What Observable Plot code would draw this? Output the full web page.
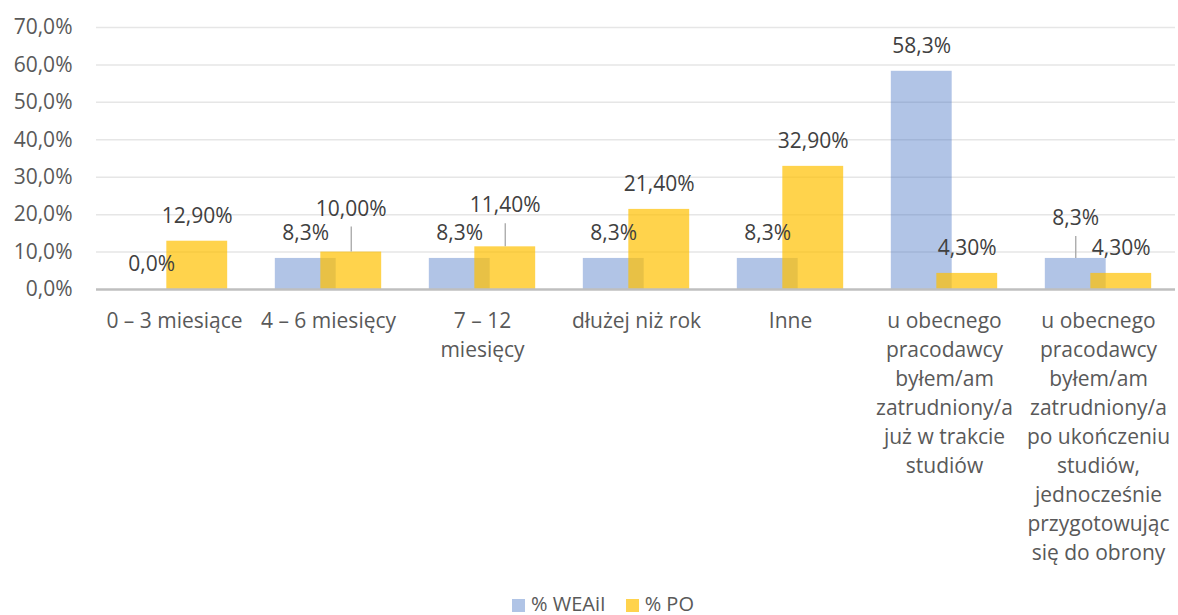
<!DOCTYPE html>
<html>
<head>
<meta charset="utf-8">
<script src="https://cdn.jsdelivr.net/npm/d3@7"></script>
<script src="https://cdn.jsdelivr.net/npm/@observablehq/plot@0.6"></script>
<style>
  html, body { margin: 0; padding: 0; background: #fff; }
  body { width: 1178px; height: 615px; overflow: hidden; font-family: "Open Sans", sans-serif; }
  #legend { display: flex; justify-content: center; align-items: center; gap: 0; padding-left: 28px;
    font-size: 20px; line-height: 24px; color: #595959; margin-top: 2px; }
  .item { display: flex; align-items: center; margin: 0 10px; }
  .sw { width: 13px; height: 13px; margin-right: 6px; margin-top: 2px; }
</style>
</head>
<body>
<div id="chart"></div>
<div id="legend"></div>
<script>
// ---- data ----
const categories = [
  "0 – 3 miesiące",
  "4 – 6 miesięcy",
  "7 – 12 miesięcy",
  "dłużej niż rok",
  "Inne",
  "u obecnego pracodawcy byłem/am zatrudniony/a już w trakcie studiów",
  "u obecnego pracodawcy byłem/am zatrudniony/a po ukończeniu studiów, jednocześnie przygotowując się do obrony"
];
const tickLabels = [
  "0 – 3 miesiące",
  "4 – 6 miesięcy",
  "7 – 12\nmiesięcy",
  "dłużej niż rok",
  "Inne",
  "u obecnego\npracodawcy\nbyłem/am\nzatrudniony/a\njuż w trakcie\nstudiów",
  "u obecnego\npracodawcy\nbyłem/am\nzatrudniony/a\npo ukończeniu\nstudiów,\njednocześnie\nprzygotowując\nsię do obrony"
];
const seriesNames = ["% WEAiI", "% PO"];
const weaii = [0.0, 8.3, 8.3, 8.3, 8.3, 58.3, 8.3];
const po = [12.9, 10.0, 11.4, 21.4, 32.9, 4.3, 4.3];
const yTicks = [0, 10, 20, 30, 40, 50, 60, 70];

// ---- layout / style ----
const W = 1178, H = 590, ML = 96, MR = 3, MT = 27, BASE = 289;
const FS = 21;
const colors = ["#4472C4", "#FFC000"];
const opac = [0.42, 0.7];
const legendColors = ["#B0C4E6", "#FFD34D"];
const band = (W - ML - MR) / categories.length;
const barW = 61, shift = 45.5;
const offsets = [-shift / 2, shift / 2];
const inset = (o) => ({insetLeft: band / 2 + o - barW / 2, insetRight: band / 2 - o - barW / 2});
// label lifts (px) for labels moved up with a leader line: key = catIndex-seriesIndex
const labelLift = {"1-1": 18, "2-1": 16, "6-0": 15};

const fmtComma = (v, d) => v.toFixed(d).replace(".", ",") + "%";
const rows = categories.flatMap((c, i) => [
  {cat: c, i, s: 0, v: weaii[i], label: fmtComma(weaii[i], 1)},
  {cat: c, i, s: 1, v: po[i], label: fmtComma(po[i], 2)}
]);

const marks = [
  Plot.gridY(yTicks.filter(t => t > 0), {stroke: "#e6e6e6", strokeOpacity: 1, strokeWidth: 1.5}),
  Plot.barY(rows.filter(d => d.s === 0), {x: "cat", y: "v", fill: colors[0], fillOpacity: opac[0], ...inset(offsets[0])}),
  Plot.barY(rows.filter(d => d.s === 1), {x: "cat", y: "v", fill: colors[1], fillOpacity: opac[1], ...inset(offsets[1])}),
  Plot.ruleY([0], {stroke: "#bfbfbf", strokeWidth: 2.6}),
  Plot.axisY({ticks: yTicks, tickFormat: d => fmtComma(d, 1), tickSize: 0, tickPadding: 24, fontSize: FS, label: null}),
  Plot.axisX({tickSize: 0, tickPadding: 18, fontSize: FS, lineHeight: 1.38, label: null,
    tickFormat: d => tickLabels[categories.indexOf(d)]})
];
for (const d of rows) {
  const lift = labelLift[`${d.i}-${d.s}`] || 0;
  marks.push(Plot.text([d], {x: "cat", y: "v", text: "label", dx: offsets[d.s], dy: -(18.5 + lift),
    lineAnchor: "bottom", fill: "#404040", fontSize: FS}));
  if (lift) {
    marks.push(Plot.ruleX([d], {x: "cat", y1: "v", y2: "v", dx: offsets[d.s], insetTop: -(lift + 7),
      stroke: "#a6a6a6", strokeWidth: 1.3}));
  }
}

const chart = Plot.plot({
  width: W, height: H,
  marginLeft: ML, marginRight: MR, marginTop: MT, marginBottom: H - BASE,
  style: {fontFamily: "'Open Sans', sans-serif", fontSize: FS + "px", color: "#595959", background: "#fff"},
  x: {type: "band", domain: categories, padding: 0, label: null},
  y: {domain: [0, 70], label: null},
  marks
});
document.getElementById("chart").appendChild(chart);

const legend = document.getElementById("legend");
seriesNames.forEach((n, k) => {
  const it = document.createElement("div");
  it.className = "item";
  const sw = document.createElement("span");
  sw.className = "sw";
  sw.style.background = legendColors[k];
  const tx = document.createElement("span");
  tx.textContent = n;
  it.appendChild(sw); it.appendChild(tx);
  legend.appendChild(it);
});
</script>
</body>
</html>
